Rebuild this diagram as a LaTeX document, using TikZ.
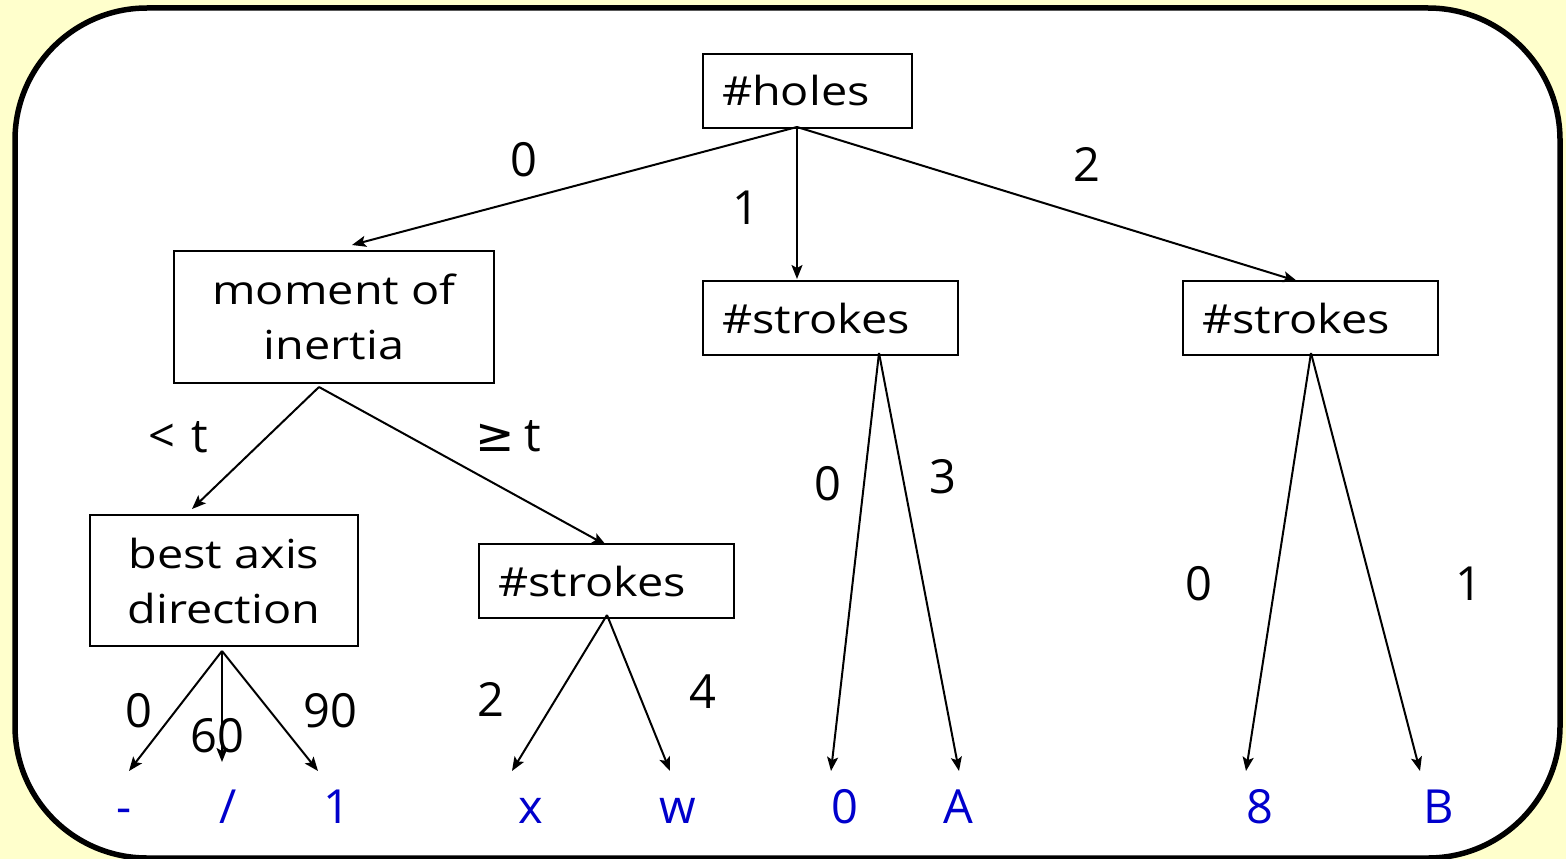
\documentclass[tikz,border=0pt]{standalone}
\usepackage{fontspec}
\setmainfont{Open Sans}
\newfontfamily\widefont{Open Sans}[FakeStretch=1.17]
\newfontfamily\symfont{DejaVu Sans}
\usetikzlibrary{arrows.meta,calc}
\definecolor{paleyellow}{HTML}{FFFFCC}
\definecolor{leafblue}{HTML}{0000CC}
\newcommand{\boxfont}{\widefont\fontsize{40}{55}\selectfont}
\newcommand{\labelfont}{\fontsize{47}{55}\selectfont}
\tikzset{
  test/.style={draw, line width=2pt, inner ysep=0pt, inner xsep=19pt, font=\boxfont},
  leftbox/.style={test, align=left, minimum height=74pt},
  twoline/.style={test, align=center},
  lbl/.style={font=\labelfont, inner sep=0pt},
  leaf/.style={font=\labelfont, text=leafblue, inner sep=0pt, anchor=base},
  branch/.style={line width=2pt, -{Stealth[length=14pt,width=11pt,inset=3pt]}},
}
\begin{document}
\begin{tikzpicture}[x=1pt,y=-1pt]
\useasboundingbox (0,0) rectangle (1566,859);
% backdrop and rounded frame
\fill[paleyellow] (0,0) rectangle (1566,859);
\draw[line width=5.5pt, fill=white, rounded corners=132pt] (15,8) rectangle (1560,858);

% decision boxes
\node[leftbox, text width=171pt] (holes) at (807.5,91) {\#holes};
\node[twoline, minimum width=320pt, minimum height=132pt] (moment) at (334,317) {moment of\\inertia};
\node[leftbox, text width=217pt] (strokesA) at (830.5,318) {\#strokes};
\node[leftbox, text width=217pt] (strokesB) at (1310.5,318) {\#strokes};
\node[twoline, minimum width=268pt, minimum height=131pt] (axis) at (224,580.5) {best axis\\direction};
\node[leftbox, text width=217pt] (strokesC) at (606.5,581) {\#strokes};

% leaves
\node[leaf] (l1) at (124,823) {-};
\node[leaf] (l2) at (228,823) {/};
\node[leaf] (l3) at (337,823) {1};
\node[leaf] (l4) at (531,823) {x};
\node[leaf] (l5) at (678,823) {w};
\node[leaf] (l6) at (845,823) {0};
\node[leaf] (l7) at (958,823) {A};
\node[leaf] (l8) at (1260,823) {8};
\node[leaf] (l9) at (1439,823) {B};

% branch origins
\coordinate (holesOut) at (797,127);
\coordinate (momentOut) at (319,387);
\coordinate (aOut) at (879,353);
\coordinate (bOut) at (1311,353);
\coordinate (axisOut) at (222,651);
\coordinate (cOut) at (607,615);

% arrow tips
\coordinate (momentIn) at (352,245);
\coordinate (aIn) at (797,279);
\coordinate (bIn) at (1297,281);
\coordinate (axisIn) at (192,509);
\coordinate (cIn) at (606,545);
\coordinate (l1In) at (129,771);
\coordinate (l2In) at (222,762);
\coordinate (l3In) at (318,771);
\coordinate (l4In) at (512,771);
\coordinate (l5In) at (670,771);
\coordinate (l6In) at (831,771);
\coordinate (l7In) at (959,771);
\coordinate (l8In) at (1246,771);
\coordinate (l9In) at (1420,771);

% branches
\draw[branch] (holesOut) -- (momentIn);
\draw[branch] (holesOut) -- (aIn);
\draw[branch] (holesOut) -- (bIn);
\draw[branch] (momentOut) -- (axisIn);
\draw[branch] (momentOut) -- (cIn);
\draw[branch] (aOut) -- (l6In);
\draw[branch] (aOut) -- (l7In);
\draw[branch] (bOut) -- (l8In);
\draw[branch] (bOut) -- (l9In);
\draw[branch] (axisOut) -- (l1In);
\draw[branch] (axisOut) -- (l2In);
\draw[branch] (axisOut) -- (l3In);
\draw[branch] (cOut) -- (l4In);
\draw[branch] (cOut) -- (l5In);

% branch labels
\node[lbl] (e1) at (524,160) {0};
\node[lbl] (e2) at (746,208) {1};
\node[lbl] (e3) at (1087,164) {2};
\node[lbl] (e4) at (178,437) {<\hspace{0.35em}t};
\node[lbl] (e5) at (508,436) {{\symfont ≥}\hspace{0.2em}t};
\node[lbl] (e6) at (828,484) {0};
\node[lbl] (e7) at (943,477) {3};
\node[lbl] (e8) at (1199,584) {0};
\node[lbl] (e9) at (1469,584) {1};
\node[lbl] (e10) at (139,711) {0};
\node[lbl] (e11) at (217,736) {60};
\node[lbl] (e12) at (330,711) {90};
\node[lbl] (e13) at (491,699) {2};
\node[lbl] (e14) at (703,692) {4};
\end{tikzpicture}
\end{document}
